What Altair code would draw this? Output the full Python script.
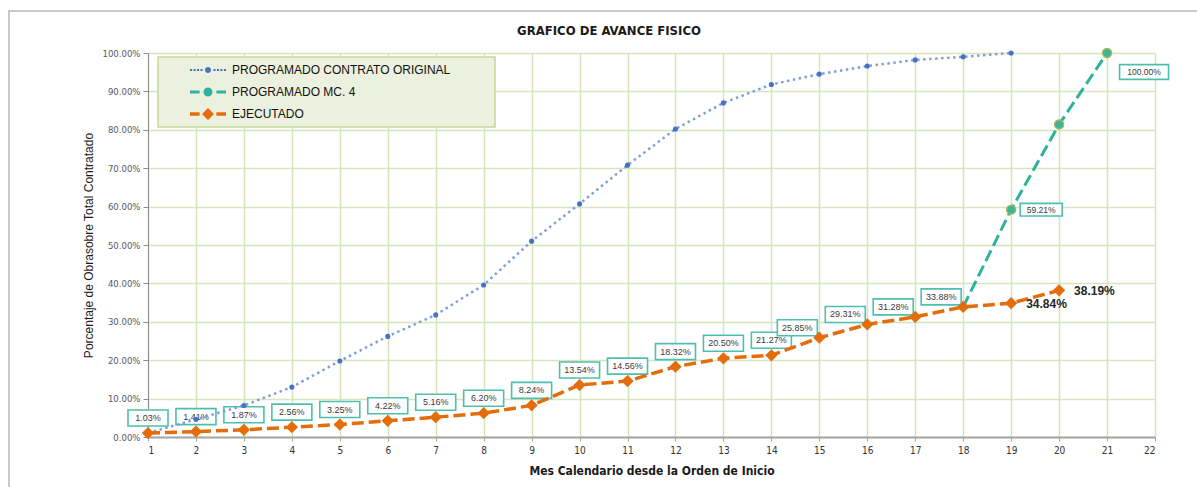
import altair as alt
import pandas as pd

# ---------------------------------------------------------------- data
titulo = "GRAFICO DE AVANCE FISICO"
titulo_x = "Mes Calendario desde la Orden de Inicio"
titulo_y = "Porcentaje de Obrasobre Total Contratado"

series = ["PROGRAMADO CONTRATO ORIGINAL", "PROGRAMADO MC. 4", "EJECUTADO"]

meses_original = list(range(1, 20))
programado_original = [1.0, 4.6, 8.2, 13.0, 19.8, 26.2, 31.8, 39.6, 51.0, 60.7,
                       70.8, 80.2, 87.0, 91.8, 94.5, 96.6, 98.2, 99.0, 100.0]

meses_mc4 = [18, 19, 20, 21]
programado_mc4 = [33.88, 59.21, 81.4, 100.0]

meses_ejecutado = list(range(1, 21))
ejecutado = [1.03, 1.41, 1.87, 2.56, 3.25, 4.22, 5.16, 6.20, 8.24, 13.54,
             14.56, 18.32, 20.50, 21.27, 25.85, 29.31, 31.28, 33.88, 34.84, 38.19]

ticks_x = list(range(1, 23))
ticks_y = list(range(0, 101, 10))

# ---------------------------------------------------------------- style
NARROW = "Liberation Sans Narrow, DejaVu Sans Condensed, Arial Narrow, sans-serif"
SANS = "Liberation Sans, Arial, sans-serif"
GRID = "#D7E4BC"
AZUL_LINEA = "#809FD9"
AZUL_PUNTO = "#4472C4"
VERDE = "#2DB39C"
NARANJA = "#E46C0A"
CAJA = "#4DBFAE"

W, H = 1007, 384

df_orig = pd.DataFrame({"mes": meses_original, "valor": programado_original, "serie": series[0]})
df_mc4 = pd.DataFrame({"mes": meses_mc4, "valor": programado_mc4, "serie": series[1]})
df_ejec = pd.DataFrame({"mes": meses_ejecutado, "valor": ejecutado, "serie": series[2]})

x_enc = alt.X(
    "mes:Q",
    scale=alt.Scale(domain=[1, 22], nice=False, zero=False),
    axis=alt.Axis(
        values=ticks_x, format="d", grid=True, gridColor=GRID, gridWidth=1.5,
        domainColor="#A6A6A6", domainWidth=2, tickColor="#A6A6A6", tickSize=4,
        labelFont=NARROW, labelFontSize=10, labelColor="#333333", labelPadding=4,
        title=titulo_x, titleFont=NARROW, titleFontSize=12, titleFontWeight="bold",
        titleColor="#1A1A1A", titleY=33, titleBaseline="middle",
    ),
)
y_enc = alt.Y(
    "valor:Q",
    scale=alt.Scale(domain=[0, 100], nice=False),
    axis=alt.Axis(
        values=ticks_y, labelExpr="format(datum.value, '.2f') + '%'",
        grid=True, gridColor=GRID, gridWidth=1.5,
        domainColor="#8C8C8C", domainWidth=1, tickColor="#8C8C8C", tickSize=5,
        labelFont=NARROW, labelFontSize=9.5, labelColor="#595959", labelPadding=3,
        title=titulo_y, titleFont=SANS, titleFontSize=12, titleFontWeight="normal",
        titleColor="#1A1A1A", titleAngle=270, titleX=-60, titleY=H / 2,
        titleAlign="center", titleBaseline="middle",
    ),
)

uno = pd.DataFrame({"k": [0]})

# outer frame of the chart area
marco = alt.Chart(uno).mark_rect(filled=False, color="#C9C9C9", strokeWidth=2).encode(
    x=alt.value(-139), x2=alt.value(1200), y=alt.value(-42), y2=alt.value(600)
)

# legend background
caja_leyenda = alt.Chart(uno).mark_rect(fill="#EBF1DE", stroke="#C4D79B", strokeWidth=1.5).encode(
    x=alt.value(10), x2=alt.value(347), y=alt.value(4), y2=alt.value(74)
)

RECT = "M-1,-0.4H1V0.4H-1Z"
RECT_ANCHO = "M-1,-0.3H1V0.3H-1Z"


def etiquetas(df, filtro, dx, dy, size, shape, font_size):
    base = alt.Chart(df).transform_filter(filtro).transform_calculate(
        etiqueta="format(datum.valor, '.2f') + '%'"
    )
    caja = base.mark_point(
        shape=shape, size=size, filled=True, fill="white", stroke=CAJA,
        strokeWidth=1.6, opacity=1, xOffset=dx, yOffset=dy,
    ).encode(x=x_enc, y=y_enc)
    texto = base.mark_text(
        dx=dx, dy=dy, fontSize=font_size, font=SANS, color="#3A3A3A",
        align="center", baseline="middle",
    ).encode(x=x_enc, y=y_enc, text="etiqueta:N")
    return [caja, texto]


capas_etiquetas = (
    etiquetas(df_ejec, "datum.mes <= 14", 0, -15, 1600, RECT, 9)
    + etiquetas(df_ejec, "datum.mes >= 15 && datum.mes <= 18", -22, -10, 1600, RECT, 9)
    + etiquetas(df_mc4, "datum.mes == 19", 30, 0, 1764, RECT_ANCHO, 8.5)
    + etiquetas(df_mc4, "datum.mes == 21", 37, 19, 2401, RECT_ANCHO, 8.5)
)

linea_orig = alt.Chart(df_orig).mark_line(
    color=AZUL_LINEA, strokeWidth=2.5, strokeDash=[2.5, 3.5]
).encode(x=x_enc, y=y_enc)
puntos_orig = alt.Chart(df_orig).mark_point(
    filled=True, shape="circle", size=26, color=AZUL_PUNTO, opacity=1
).encode(x=x_enc, y=y_enc)

linea_mc4 = alt.Chart(df_mc4).mark_line(
    color=VERDE, strokeWidth=3, strokeDash=[12, 5]
).encode(x=x_enc, y=y_enc)
puntos_mc4 = alt.Chart(df_mc4).transform_filter("datum.mes > 18").mark_point(
    filled=True, shape="circle", size=80, fill="#3FB497", stroke="#9BBB59",
    strokeWidth=1.5, opacity=1
).encode(x=x_enc, y=y_enc)

linea_ejec = alt.Chart(df_ejec).mark_line(
    color=NARANJA, strokeWidth=3.5, strokeDash=[12, 5]
).encode(x=x_enc, y=y_enc)
puntos_ejec = alt.Chart(df_ejec).mark_point(
    filled=True, shape="diamond", size=150, color=NARANJA, opacity=1
).encode(x=x_enc, y=y_enc)

# bold value labels for the last executed months
finales = alt.Chart(df_ejec).transform_filter("datum.mes >= 19").transform_calculate(
    etiqueta="format(datum.valor, '.2f') + '%'"
).mark_text(
    dx=15, dy=1, align="left", baseline="middle", fontSize=12, fontWeight="bold",
    font=SANS, color="#262626"
).encode(x=x_enc, y=y_enc, text="etiqueta:N")

# legend: symbols drawn as paths (dashes + marker), 6 px per unit at size 144
sym_orig = (
    "M-2.99,-0.17h0.34v0.34h-0.34z M-2.41,-0.17h0.34v0.34h-0.34z "
    "M-1.83,-0.17h0.34v0.34h-0.34z M-1.25,-0.17h0.34v0.34h-0.34z "
    "M-0.5,0a0.5,0.5 0 1,0 1,0a0.5,0.5 0 1,0 -1,0z "
    "M0.91,-0.17h0.34v0.34h-0.34z M1.49,-0.17h0.34v0.34h-0.34z "
    "M2.07,-0.17h0.34v0.34h-0.34z M2.65,-0.17h0.34v0.34h-0.34z"
)
sym_mc4 = (
    "M-3,-0.25H-1.4V0.25H-3Z M1.4,-0.25H3V0.25H1.4Z "
    "M-0.75,0a0.75,0.75 0 1,0 1.5,0a0.75,0.75 0 1,0 -1.5,0z"
)
sym_ejec = (
    "M-3,-0.28H-1.4V0.28H-3Z M1.4,-0.28H3V0.28H1.4Z "
    "M0,-1L1,0L0,1L-1,0Z"
)

leyenda = alt.Legend(
    orient="none", legendX=42, legendY=11, title=None, padding=0,
    labelFont=SANS, labelFontSize=12, labelColor="#111111", labelOffset=18,
    labelLimit=400, symbolSize=144, symbolStrokeWidth=0, symbolOffset=12,
    rowPadding=10, symbolOpacity=1,
)
capa_leyenda = alt.Chart(df_ejec).transform_filter("false").mark_point(
    filled=True, size=144, opacity=1, strokeWidth=0
).encode(
    x=x_enc, y=y_enc,
    color=alt.Color("serie:N", scale=alt.Scale(domain=series, range=[AZUL_PUNTO, VERDE, NARANJA]),
                    legend=leyenda),
    shape=alt.Shape("serie:N", scale=alt.Scale(domain=series, range=[sym_orig, sym_mc4, sym_ejec]),
                    legend=leyenda),
)

titulo_capa = alt.Chart(pd.DataFrame({"t": [titulo]})).mark_text(
    font=NARROW, fontSize=13, fontWeight="bold", color="#1A1A1A",
    align="center", baseline="middle"
).encode(x=alt.value(461), y=alt.value(-22), text="t:N")

chart = alt.layer(
    marco, caja_leyenda, *capas_etiquetas,
    linea_orig, puntos_orig, linea_mc4, linea_ejec, puntos_mc4, puntos_ejec,
    finales, capa_leyenda, titulo_capa,
).properties(
    width=W, height=H,
    autosize=alt.AutoSizeParams(type="none"),
    padding={"left": 148, "top": 53, "right": 42, "bottom": 50},
    background="white",
).configure_view(strokeWidth=0)

chart.save("out.html", embed_options={"renderer": "svg", "actions": False})
